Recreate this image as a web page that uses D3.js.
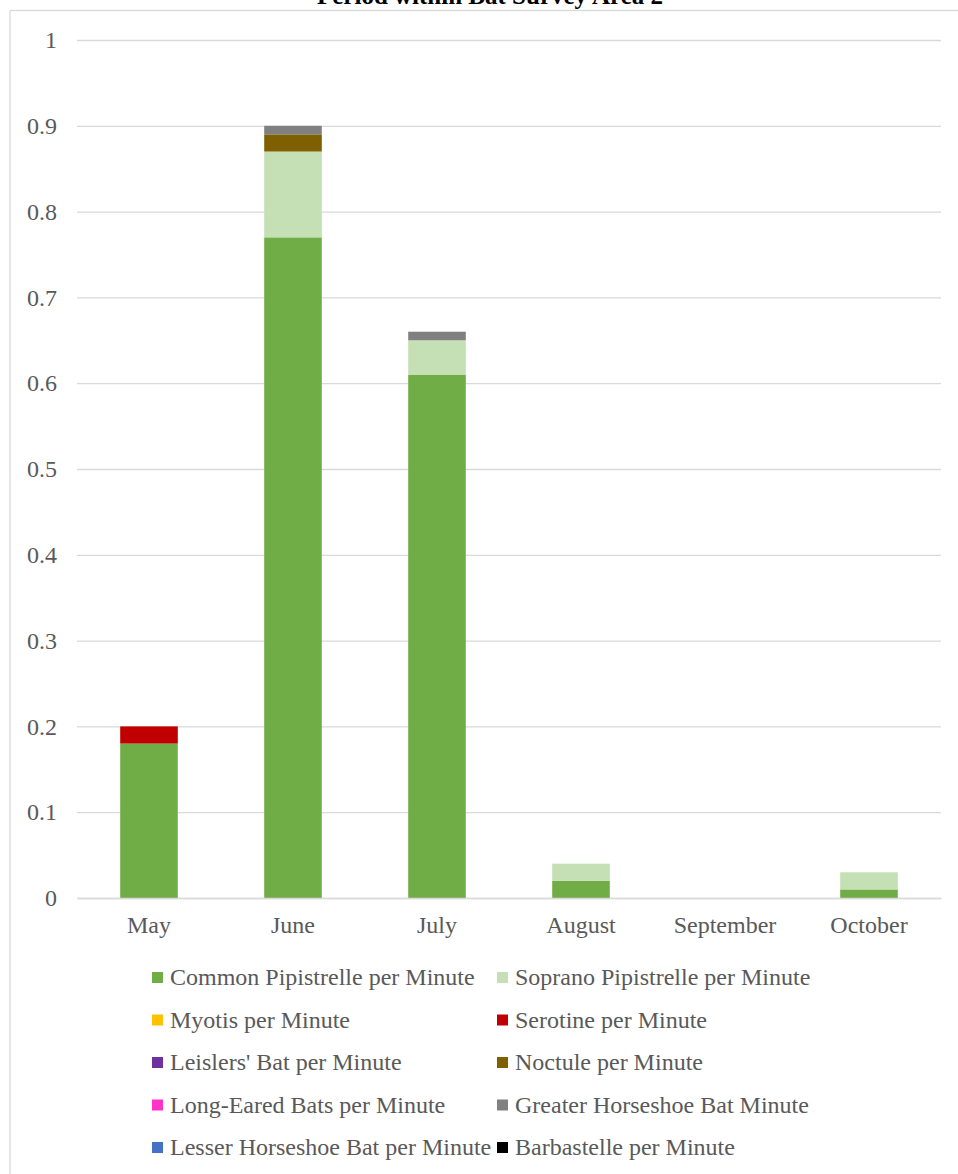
<!DOCTYPE html>
<html><head><meta charset="utf-8">
<script src="https://cdn.jsdelivr.net/npm/d3@7"></script>
<style>body{margin:0;background:#fff}svg{display:block}text{font-family:"Liberation Serif","Times New Roman",serif}</style>
</head><body>
<svg id="c" width="958" height="1174"></svg>
<script>
const categories = ["May","June","July","August","September","October"];
const seriesNames = ["Common Pipistrelle per Minute","Soprano Pipistrelle per Minute","Myotis per Minute","Serotine per Minute","Leislers' Bat per Minute","Noctule per Minute","Long-Eared Bats per Minute","Greater Horseshoe Bat Minute","Lesser Horseshoe Bat per Minute","Barbastelle per Minute"];
const seriesColors = ["#70AD47","#C5E0B4","#FFC000","#C00000","#7030A0","#7F6000","#FF33CC","#808080","#4472C4","#000000"];
const commonPip = [0.18,0.77,0.61,0.02,0,0.01];
const sopranoPip = [0,0.10,0.04,0.02,0,0.02];
const myotis = [0,0,0,0,0,0];
const serotine = [0.02,0,0,0,0,0];
const leislers = [0,0,0,0,0,0];
const noctule = [0,0.02,0,0,0,0];
const longEared = [0,0,0,0,0,0];
const greaterHorseshoe = [0,0.01,0.01,0,0,0];
const lesserHorseshoe = [0,0,0,0,0,0];
const barbastelle = [0,0,0,0,0,0];
const yTicks = [0,0.1,0.2,0.3,0.4,0.5,0.6,0.7,0.8,0.9,1];
const titleText = "Period within Bat Survey Area 2";

const seriesValues = [commonPip,sopranoPip,myotis,serotine,leislers,noctule,longEared,greaterHorseshoe,lesserHorseshoe,barbastelle];
const rows = categories.map((c,i)=>{const r={cat:c};seriesNames.forEach((s,j)=>r[s]=seriesValues[j][i]);return r;});
const stack = d3.stack().keys(seriesNames)(rows);

const svg = d3.select("#c");
svg.append("rect").attr("x",10).attr("y",10.5).attr("width",960).attr("height",1200).attr("fill","none").attr("stroke","#d9d9d9").attr("stroke-width",1.3);
svg.append("text").attr("x",490).attr("y",4).attr("text-anchor","middle").attr("font-size",25).attr("font-weight","bold").attr("fill","#000").text(titleText);

const x = d3.scaleBand().domain(categories).range([77,941]).paddingInner(0.6).paddingOuter(0.3);
const y = d3.scaleLinear().domain([0,1]).range([898,40]);

const gy = svg.append("g").attr("transform","translate(77,0)")
  .call(d3.axisLeft(y).tickValues(yTicks).tickSize(-864).tickPadding(20).tickFormat(d=>d3.format("")(d)));
gy.select(".domain").remove();
gy.selectAll(".tick line").attr("stroke","#d9d9d9").attr("stroke-width",1.3);
gy.selectAll(".tick text").attr("font-size",24).attr("fill","#595959");

svg.append("g").selectAll("g").data(stack).join("g").attr("fill",(d,i)=>seriesColors[i])
  .selectAll("rect").data(d=>d).join("rect")
  .attr("x",d=>x(d.data.cat)).attr("width",x.bandwidth())
  .attr("y",d=>y(d[1])).attr("height",d=>y(d[0])-y(d[1]));

const gx = svg.append("g").attr("transform","translate(0,898)")
  .call(d3.axisBottom(x).tickSize(0).tickPadding(18));
gx.select(".domain").attr("stroke","#d9d9d9").attr("stroke-width",1.3);
gx.selectAll(".tick text").attr("font-size",24).attr("fill","#595959");

const lg = svg.append("g");
seriesNames.forEach((s,i)=>{
  const col=i%2,row=Math.floor(i/2);
  const gx0 = col===0?152:497, gy0 = 977.5+row*42.5;
  lg.append("rect").attr("x",gx0).attr("y",gy0-5.5).attr("width",11).attr("height",11).attr("fill",seriesColors[i]);
  lg.append("text").attr("x",gx0+18).attr("y",gy0+7.5).attr("font-size",24).attr("fill","#595959").text(s);
});
</script>
</body></html>
